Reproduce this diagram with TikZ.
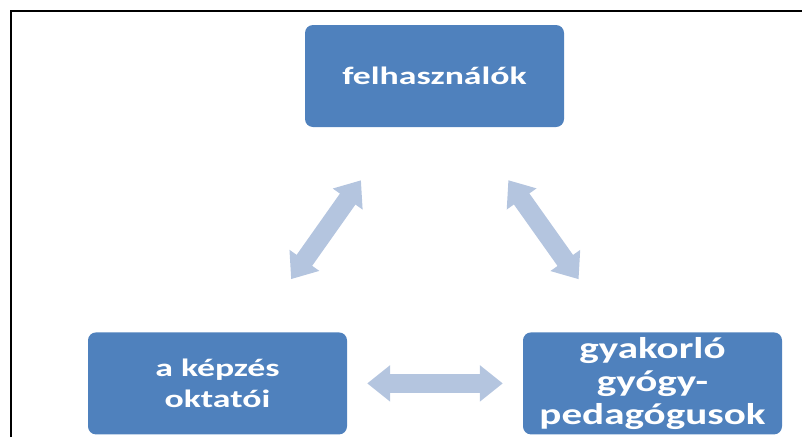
\documentclass[tikz,border=0pt]{standalone}
\usepackage{fontspec}
\newfontfamily\boxfont[FakeStretch=1.43]{Carlito}
\newfontfamily\bigboxfont[FakeStretch=1.37]{Carlito}
\usepackage{xcolor}
\usetikzlibrary{positioning, arrows.meta}
\definecolor{boxblue}{RGB}{79,129,189}
\definecolor{arrowblue}{RGB}{180,197,223}

\begin{document}
\begin{tikzpicture}[
    x=1pt, y=-1pt,
    node distance=205pt,
    group/.style={rectangle, rounded corners=8pt, fill=boxblue, text=white, minimum width=259pt, minimum height=102pt, inner sep=2pt, align=center, font=\boxfont\bfseries\fontsize{25}{31}\selectfont},
    bigtext/.style={font=\bigboxfont\bfseries\fontsize{30}{33}\selectfont},
    link/.style={line width=19pt, draw=arrowblue, arrows={Triangle[width=35pt,length=23pt]-Triangle[width=35pt,length=23pt]}},
    edgeline/.style={line width=2pt}
]

% Frame
\useasboundingbox (0,0) rectangle (802,437);
\draw[edgeline] (11,437) -- (11,11) -- (802,11);

% Boxes
\node[group] (users) at (434.5,76) {felhasználók};
\node[group, below=of users, xshift=-217pt] (teachers) {a képzés\\oktatói};
\node[group, bigtext, below=of users, xshift=218pt] (practice) {gyakorló\\gyógy-\\pedagógusok};

% Arrows between the boxes
\draw[link, shorten <=65pt, shorten >=65pt] (users) -- (teachers);
\draw[link, shorten <=65pt, shorten >=65pt] (users) -- (practice);
\draw[link, shorten <=20pt, shorten >=20pt] (teachers) -- (practice);

\end{tikzpicture}
\end{document}
